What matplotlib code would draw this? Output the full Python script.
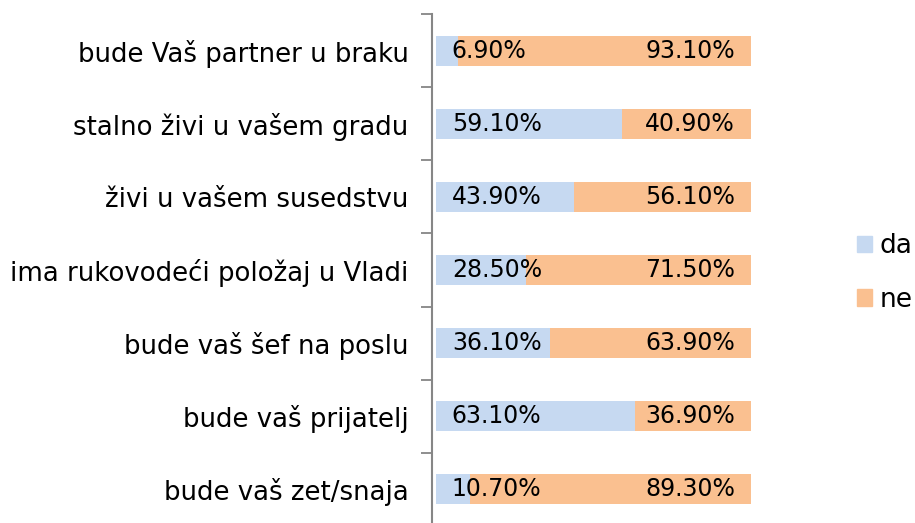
import numpy as np
import matplotlib.pyplot as plt
from matplotlib.patches import Patch

categories = [
    "bude Vaš partner u braku",
    "stalno živi u vašem gradu",
    "živi u vašem susedstvu",
    "ima rukovodeći položaj u Vladi",
    "bude vaš šef na poslu",
    "bude vaš prijatelj",
    "bude vaš zet/snaja",
]
da = [6.9, 59.1, 43.9, 28.5, 36.1, 63.1, 10.7]
ne = [93.1, 40.9, 56.1, 71.5, 63.9, 36.9, 89.3]
series_names = ["da", "ne"]
colors = ["#C6D9F1", "#FAC090"]

plt.rcParams['font.family'] = ['DejaVu Sans']

fig = plt.figure(figsize=(9.15, 5.23), dpi=100)
ax = fig.add_axes([432 / 915, -3 / 523, (751 - 432) / 915, 512 / 523])

y = np.arange(len(categories))
da_frac = np.array(da) / 100
ne_frac = np.array(ne) / 100

ax.barh(y, da_frac, height=0.41, color=colors[0])
ax.barh(y, ne_frac, left=da_frac, height=0.41, color=colors[1])

for yi, d, n in zip(y, da, ne):
    ax.text(0.05, yi, f"{d:.2f}%", ha='left', va='center', fontsize=17, color='#000000')
    ax.text(0.949, yi, f"{n:.2f}%", ha='right', va='center', fontsize=17, color='#000000')

ax.set_xlim(-0.0127, 1.0)
ax.set_ylim(len(categories) - 0.5, -0.5)
ax.set_yticks(y)
ax.set_yticklabels(categories, fontsize=18.7)
ax.set_yticks(np.arange(len(categories) + 1) - 0.5, minor=True)
ax.tick_params(axis='y', which='major', length=0, pad=17)
ax.tick_params(axis='y', which='minor', length=8, width=1.3, color='#868686')
ax.set_xticks([])
for side in ['top', 'right', 'bottom']:
    ax.spines[side].set_visible(False)
ax.spines['left'].set_color('#868686')
ax.spines['left'].set_linewidth(1.5)

handles = [Patch(color=c, label=s) for c, s in zip(colors, series_names)]
fig.legend(handles=handles, loc='center left', bbox_to_anchor=(857 / 915, 1 - 273 / 523),
           frameon=False, fontsize=19, handlelength=0.57, handleheight=0.57,
           handletextpad=0.3, labelspacing=1.05, borderaxespad=0, borderpad=0)

fig.savefig("out.png", dpi=100)
